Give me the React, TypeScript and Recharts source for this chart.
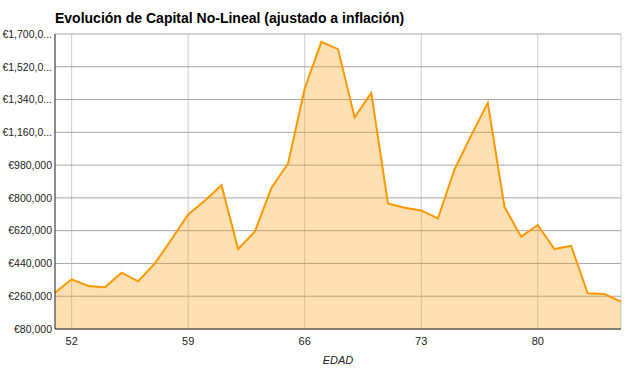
import React from 'react'
import {
  AreaChart,
  Area,
  XAxis,
  YAxis,
  CartesianGrid,
} from 'recharts'

// ages on the x axis (one point per year)
const ages = [
  51, 52, 53, 54, 55, 56, 57, 58, 59, 60, 61, 62, 63, 64, 65, 66, 67, 68,
  69, 70, 71, 72, 73, 74, 75, 76, 77, 78, 79, 80, 81, 82, 83, 84, 85,
]

// capital per age
const capital = [
  279000, 353000, 316000, 309000, 389000, 342000, 440000, 572000, 709000,
  784000, 870000, 519000, 614000, 854000, 989000, 1401000, 1657000, 1617000,
  1242000, 1377000, 770000, 746000, 731000, 687000, 956000, 1143000, 1322000,
  751000, 587000, 651000, 519000, 537000, 276000, 272000, 230000,
]

const xTicks = [52, 59, 66, 73, 80]
const yTicks = [
  80000, 260000, 440000, 620000, 800000, 980000, 1160000, 1340000, 1520000,
  1700000,
]

const data = ages.map((age, i) => ({ age, capital: capital[i] }))

const FONT = 'Arial, "Liberation Sans", sans-serif'

// Google-charts style euro labels, long ones get cut with dots
const formatEuro = (v: number) => {
  const s = '€' + v.toLocaleString('en-US')
  return s.length > 8 ? s.slice(0, 8) + '...' : s
}

const App = () => {
  return (
    <div style={{ position: 'absolute', left: 0, top: 0, width: 631, height: 374, background: '#fff' }}>
      <div
        style={{
          position: 'absolute',
          left: 55,
          top: 10,
          fontFamily: FONT,
          fontWeight: 'bold',
          fontSize: 14,
          color: '#000',
          whiteSpace: 'nowrap',
        }}
      >
        Evolución de Capital No-Lineal (ajustado a inflación)
      </div>
      <AreaChart
        width={631}
        height={374}
        data={data}
        margin={{ top: 34, right: 10, left: 0, bottom: 0 }}
      >
        <CartesianGrid horizontal={false} vertical stroke="#cccccc" />
        <CartesianGrid horizontal vertical={false} stroke="#a6a6a6" />
        <XAxis
          dataKey="age"
          type="number"
          domain={[51, 85]}
          ticks={xTicks}
          height={45}
          tickLine={false}
          tickSize={0}
          tickMargin={8}
          stroke="#333"
          tick={{ fill: '#222', fontSize: 11, fontFamily: FONT }}
          label={{
            value: 'EDAD',
            position: 'insideBottom',
            offset: 10,
            fill: '#222',
            fontSize: 11,
            fontStyle: 'italic',
            fontFamily: FONT,
          }}
        />
        <YAxis
          type="number"
          domain={[80000, 1700000]}
          ticks={yTicks}
          width={55}
          tickLine={false}
          tickSize={0}
          tickMargin={3}
          stroke="#333"
          tickFormatter={formatEuro}
          tick={{ fill: '#222', fontSize: 10.5, fontFamily: FONT }}
        />
        <Area
          type="linear"
          dataKey="capital"
          stroke="#ff9800"
          strokeWidth={2}
          fill="#ff9800"
          fillOpacity={0.3}
          dot={false}
          activeDot={false}
          isAnimationActive={false}
        />
      </AreaChart>
    </div>
  )
}

export default App
